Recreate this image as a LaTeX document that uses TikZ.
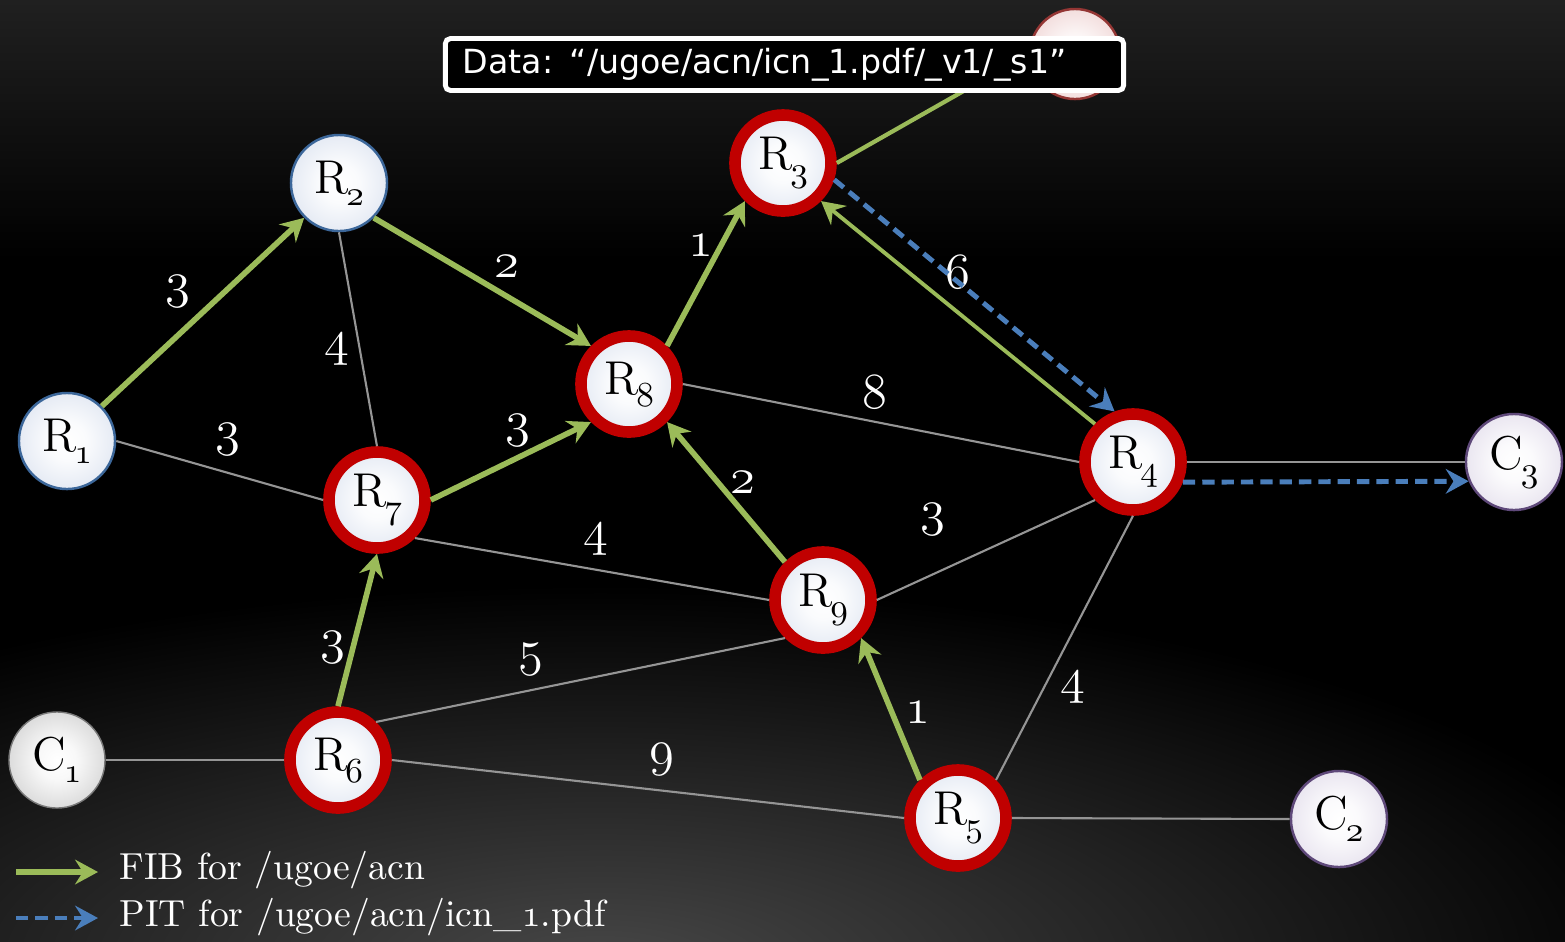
\documentclass[tikz,border=0pt]{standalone}
\usepackage{fontspec}
\newfontfamily\databoxfont{DejaVu Sans}
\usetikzlibrary{arrows.meta}

\definecolor{fibgreen}{HTML}{9BBB59}
\definecolor{pitblue}{HTML}{4A7EBB}
\definecolor{ringred}{HTML}{C00000}
\definecolor{ringblue}{HTML}{3C679A}
\definecolor{nodeblue}{HTML}{C3CFE5}
\definecolor{lilac}{HTML}{CEC5DD}
\definecolor{lilacedge}{HTML}{5F497A}
\definecolor{pebble}{HTML}{ADADAD}
\definecolor{rose}{HTML}{E3B3B2}
\definecolor{roseedge}{HTML}{943634}
\definecolor{linkgray}{HTML}{959595}
\definecolor{bgtop}{HTML}{202020}
\definecolor{bgglow}{HTML}{474747}

\pgfdeclareradialshading{routerglow}{\pgfpoint{0bp}{0bp}}{color(0bp)=(white); color(10bp)=(white!92!nodeblue); color(50bp)=(nodeblue)}
\pgfdeclareradialshading{clientglow}{\pgfpoint{0bp}{0bp}}{color(0bp)=(white); color(10bp)=(white!92!lilac); color(50bp)=(lilac)}
\pgfdeclareradialshading{pebbleglow}{\pgfpoint{0bp}{0bp}}{color(0bp)=(white); color(10bp)=(white!92!pebble); color(50bp)=(pebble)}
\pgfdeclareradialshading{roseglow}{\pgfpoint{0bp}{0bp}}{color(0bp)=(white); color(10bp)=(white!90!rose); color(50bp)=(rose)}

\newcommand{\wnum}[1]{$\mathnormal{#1}$}
\newcommand{\rname}[2]{#1\kern-0.6pt\raisebox{-0.6ex}{\fontsize{10}{10}\selectfont\wnum{#2}}}

\tikzset{
  router/.style={circle, minimum size=0.96cm, inner sep=0pt, shade, shading=routerglow,
    draw=ringblue, line width=0.7pt, font=\fontsize{13.5}{14}\selectfont},
  cache/.style={router, draw=ringred, line width=3.3pt},
  client/.style={router, shading=clientglow, draw=lilacedge},
  pebbleclient/.style={router, shading=pebbleglow, draw=pebble!70!black, line width=0.4pt},
  source/.style={router, minimum size=0.9cm, shading=roseglow, draw=roseedge},
  link/.style={color=linkgray, line width=0.6pt},
  fib/.style={color=fibgreen, line width=1.6pt, -{Stealth[length=6.5pt, width=7pt, inset=2.2pt]}},
  pit/.style={color=pitblue, line width=1.4pt, dash pattern=on 3.5pt off 2pt,
    -{Stealth[length=6.5pt, width=7pt, inset=2.2pt]}},
  weight/.style={text=white, inner sep=0pt, font=\fontsize{14.4}{15}\selectfont},
  legend/.style={anchor=west, text=white, inner sep=0pt, font=\fontsize{10.7}{12}\selectfont},
  databox/.style={draw=white, fill=black, line width=1.4pt, rounded corners=1.5pt,
    minimum width=6.78cm, minimum height=0.52cm, text width=6.43cm, align=left,
    inner xsep=0.175cm, inner ysep=0pt, text=white,
    font=\databoxfont\fontsize{9.45}{11}\selectfont}
}

\begin{document}
\begin{tikzpicture}[x=0.01cm, y=-0.01cm]
      % backdrop
      \useasboundingbox (0,0) rectangle (1565,941);
      \fill[black] (0,0) rectangle (1565,941);
      \shade[top color=bgtop, bottom color=black] (0,0) rectangle (1565,260);
      \begin{scope}
        \clip (0,0) rectangle (1565,941);
        \shade[inner color=bgglow, outer color=black] (600,965) ellipse [x radius=1100, y radius=380];
      \end{scope}
      % routers and clients
      \path
        (67,441) node[router] (R1) {\rname{R}{1}}
        (339,183) node[router] (R2) {\rname{R}{2}}
        (783,163) node[cache] (R3) {\rname{R}{3}}
        (1133,462) node[cache] (R4) {\rname{R}{4}}
        (958,818) node[cache] (R5) {\rname{R}{5}}
        (338,760) node[cache] (R6) {\rname{R}{6}}
        (377,500) node[cache] (R7) {\rname{R}{7}}
        (629,384) node[cache] (R8) {\rname{R}{8}}
        (823,600) node[cache] (R9) {\rname{R}{9}}
        (57,760) node[pebbleclient] (C1) {\rname{C}{1}}
        (1339,819) node[client] (C2) {\rname{C}{2}}
        (1514,462) node[client] (C3) {\rname{C}{3}}
        (1075,54) node[source] (S) {};
      \begin{scope}[link]
        \draw (R1.east) to (R7.west);
        \draw (R2.south) to (R7.north);
        \draw (R7.south east) to (R9.west);
        \draw (R8.east) to (R4.west);
        \draw (R9.east) to (R4.south west);
        \draw (R4.south) to (R5.north east);
        \draw (R6.north east) to (R9.south west);
        \draw (R6.east) to (R5.west);
        \draw (C1.east) to (R6.west);
        \draw (R5.east) to (C2.west);
        \draw (R4.east) to (C3.west);
      \end{scope}
      \begin{scope}[fib]
        \draw (R1.north east) to (R2.south west);
        \draw (R2.south east) to (R8.north west);
        \draw (R7.east) to (R8.south west);
        \draw (R6.north) to (R7.south);
        \draw (R8.north east) to (R3.south west);
        \draw (R9.north west) to (R8.south east);
        \draw (R5.north west) to (R9.south east);
        \draw[line width=1.1pt] (R4.north west) to (R3.south east);
        \draw[-, line width=1.2pt] (R3.east) to (S.west);
      \end{scope}
      % link costs
      \path[every node/.style={weight}]
        (178,292) node (w12) {\wnum{3}}
        (507,267) node (w28) {\wnum{2}}
        (337,350) node (w27) {\wnum{4}}
        (228,440) node (w17) {\wnum{3}}
        (518,431) node (w78) {\wnum{3}}
        (701,246) node (w83) {\wnum{1}}
        (958,272) node (w43) {\wnum{6}}
        (875,392) node (w84) {\wnum{8}}
        (743,483) node (w98) {\wnum{2}}
        (933,520) node (w94) {\wnum{3}}
        (596,540) node (w79) {\wnum{4}}
        (333,648) node (w67) {\wnum{3}}
        (531,660) node (w69) {\wnum{5}}
        (1073,688) node (w45) {\wnum{4}}
        (662,760) node (w65) {\wnum{9}}
        (918,713) node (w59) {\wnum{1}};
      \begin{scope}[pit]
        \draw (R3.-18) to (R4.110);
        \draw (R4.-22) to (C3.-157);
      \end{scope}
      % legend
      \coordinate (fibtail) at (16,872);
      \coordinate (fibhead) at (98,872);
      \coordinate (pittail) at (16,918);
      \coordinate (pithead) at (98,918);
      \draw[fib] (fibtail) to (fibhead);
      \draw[pit] (pittail) to (pithead);
      \node[legend] (fibtext) at (119,870) {FIB for /ugoe/acn};
      \node[legend] (pittext) at (119,917) {PIT for /ugoe/acn/icn\_\wnum{1}.pdf};
      % data packet
      \node[databox] (data) at (784.5,64.5) {Data: “/ugoe/acn/icn\_1.pdf/\_v1/\_s1”};
    \end{tikzpicture}
\end{document}
